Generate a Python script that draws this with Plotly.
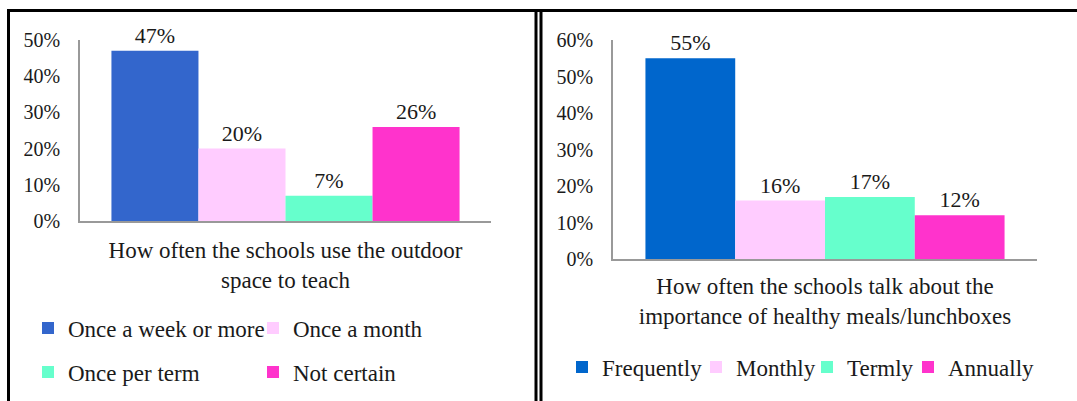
import plotly.graph_objects as go

W, H = 1077, 401

# left chart
left_title = "How often the schools use the outdoor<br>space to teach"
left_cats = ["Once a week or more", "Once a month", "Once per term", "Not certain"]
left_vals = [0.47, 0.20, 0.07, 0.26]
left_colors = ["#3366CC", "#FFCCFF", "#66FFCC", "#FF33CC"]

# right chart
right_title = "How often the schools talk about the<br>importance of healthy meals/lunchboxes"
right_cats = ["Frequently", "Monthly", "Termly", "Annually"]
right_vals = [0.55, 0.16, 0.17, 0.12]
right_colors = ["#0066CC", "#FFCCFF", "#66FFCC", "#FF33CC"]

FONT = "Liberation Serif, Times New Roman, serif"
TXT = "#1a1a1a"


def px(x):
    return x / W


def py(y):
    return 1 - y / H


fig = go.Figure()

# one legend per entry so every item can sit where the original has it
left_legends = ["legend", "legend2", "legend3", "legend4"]
for name, v, c, lg in zip(left_cats, left_vals, left_colors, left_legends):
    fig.add_trace(go.Bar(
        x=["a"], y=[v], name=name, marker=dict(color=c, line=dict(width=0)),
        texttemplate="%{y:.0%}", textposition="outside", cliponaxis=False,
        textfont=dict(size=22, color=TXT), hoverinfo="skip",
        xaxis="x", yaxis="y", legend=lg,
    ))

right_legends = ["legend5", "legend6", "legend7", "legend8"]
for name, v, c, lg in zip(right_cats, right_vals, right_colors, right_legends):
    fig.add_trace(go.Bar(
        x=["b"], y=[v], name=name, marker=dict(color=c, line=dict(width=0)),
        texttemplate="%{y:.0%}", textposition="outside", cliponaxis=False,
        textfont=dict(size=22, color=TXT), hoverinfo="skip",
        xaxis="x2", yaxis="y2", legend=lg,
    ))

yax = dict(tickformat=".0%", dtick=0.1, showgrid=False, zeroline=False,
           showline=True, linecolor="#999999", linewidth=1.5,
           ticks="", ticklabelstandoff=14, automargin=False,
           tickfont=dict(family=FONT, size=20, color=TXT))
xax = dict(showticklabels=False, showline=True, linecolor="#999999", linewidth=1.5,
           ticks="", showgrid=False, automargin=False)

leg = dict(orientation="h", xanchor="left", yanchor="middle", bgcolor="rgba(0,0,0,0)",
           font=dict(family=FONT, size=23, color=TXT), traceorder="normal")
title_font = dict(family=FONT, size=23, color=TXT)

fig.update_layout(
    width=W, height=H, margin=dict(l=0, r=0, t=0, b=0, autoexpand=False),
    paper_bgcolor="white", plot_bgcolor="white",
    barmode="group", bargap=0.153, bargroupgap=0,
    font=dict(family=FONT, color=TXT),
    xaxis=dict(xax, domain=[px(80), px(491)], anchor="y",
               title=dict(text=left_title, standoff=20, font=title_font)),
    yaxis=dict(yax, domain=[py(221), py(40)], range=[0, 0.5], anchor="x"),
    xaxis2=dict(xax, domain=[px(613), px(1037)], anchor="y2",
                title=dict(text=right_title, standoff=18, font=title_font)),
    yaxis2=dict(yax, domain=[py(259), py(40)], range=[0, 0.6], anchor="x2"),
    legend=dict(leg, x=px(28), y=py(328)),
    legend2=dict(leg, x=px(253), y=py(328)),
    legend3=dict(leg, x=px(28), y=py(372)),
    legend4=dict(leg, x=px(253), y=py(372)),
    legend5=dict(leg, x=px(562), y=py(367)),
    legend6=dict(leg, x=px(696), y=py(367)),
    legend7=dict(leg, x=px(807), y=py(367)),
    legend8=dict(leg, x=px(908), y=py(367)),
    showlegend=True,
)

# panel borders
border = dict(type="line", xref="paper", yref="paper", line=dict(color="black", width=3))
fig.add_shape(border, x0=px(7), x1=px(1077), y0=py(10.5), y1=py(10.5))
fig.add_shape(border, x0=px(8.5), x1=px(8.5), y0=py(9), y1=py(401))
fig.add_shape(border, x0=px(536), x1=px(536), y0=py(9), y1=py(401))
fig.add_shape(border, x0=px(541), x1=px(541), y0=py(9), y1=py(401))

# the page body has a default 8px margin; drop it so the figure sits at 0,0
fig.write_html("out.html", config={"displayModeBar": False},
               post_script="document.body.style.margin='0';")
